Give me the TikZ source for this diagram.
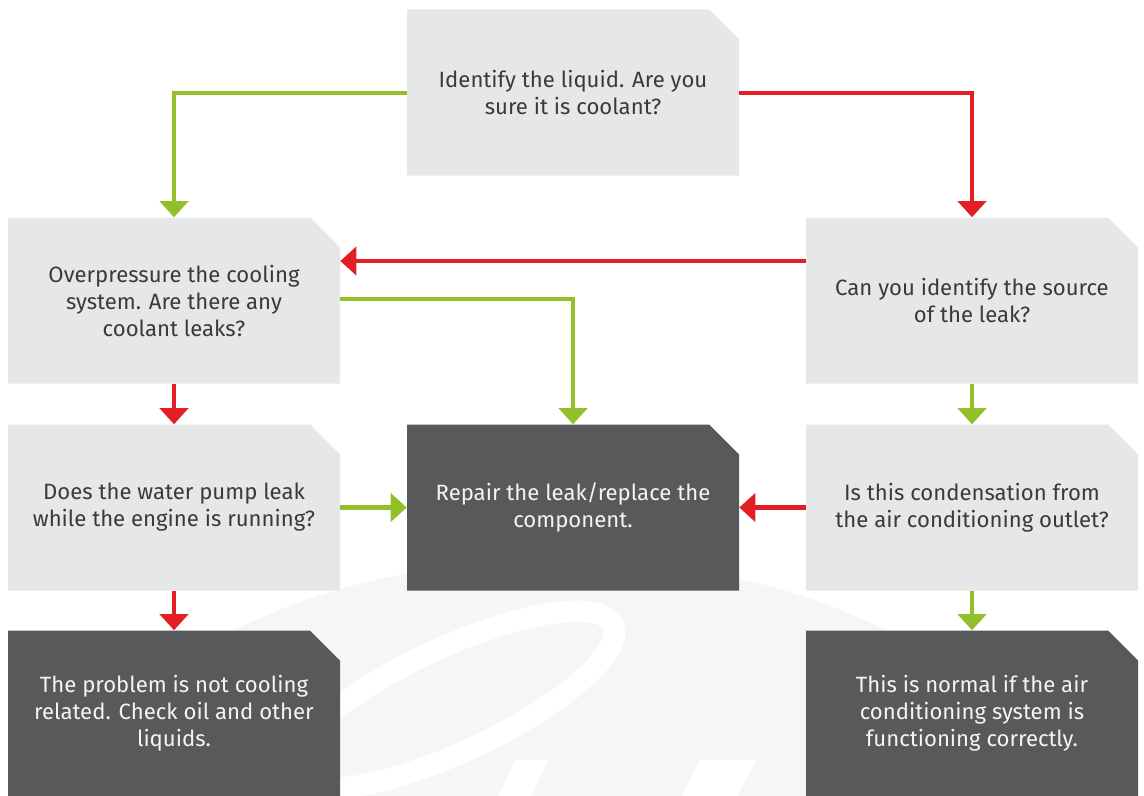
\documentclass[tikz,border=0pt]{standalone}
\usepackage{fontspec}
\setmainfont{Fira Sans}
\usetikzlibrary{arrows.meta,calc}
\definecolor{boxlight}{HTML}{E6E7E8}
\definecolor{boxdark}{HTML}{58595B}
\definecolor{txtdark}{HTML}{3A3A3C}
\definecolor{txtlight}{HTML}{F4F4F4}
\definecolor{arrgreen}{HTML}{92BF2A}
\definecolor{arrred}{HTML}{E31E24}
\definecolor{wmgray}{HTML}{F6F6F6}
\newcommand\flowbox[5]{%
  \fill[#3] ($(#2)+(-166,-83)$) -- ($(#2)+(136,-83)$) -- ($(#2)+(166,-53)$)
    -- ($(#2)+(166,83)$) -- ($(#2)+(-166,83)$) -- cycle;
  \node[boxtext, text=#4] (#1) at (#2) {#5};}
\tikzset{
  boxtext/.style={minimum width=249pt, minimum height=124.5pt, inner sep=0pt,
    align=center, font=\fontsize{16.6}{20.25}\selectfont},
  conn/.style={line width=3.2pt, -{Triangle[width=21pt,length=12pt]}},
  greenarrow/.style={conn, draw=arrgreen},
  redarrow/.style={conn, draw=arrred}
}
\begin{document}
\begin{tikzpicture}[x=0.75pt,y=-0.75pt]
\useasboundingbox (0,0) rectangle (1144,795);
% faint watermark
\begin{scope}
  \clip (0,0) rectangle (1144,795);
  \fill[wmgray] (560,800) ellipse [x radius=460, y radius=240];
  \draw[white, line width=16pt, rotate around={25:(452,700)}] (452,700) ellipse [x radius=178, y radius=52];
  \fill[white] (700,760) -- (756,760) -- (735,800) -- (680,800) -- cycle;
  \fill[white] (515,760) -- (548,760) -- (530,800) -- (497,800) -- cycle;
\end{scope}
% boxes
\flowbox{T}{573,92.5}{boxlight}{txtdark}{Identify the liquid. Are you\\sure it is coolant?}
\flowbox{L1}{174,300.5}{boxlight}{txtdark}{Overpressure the cooling\\system. Are there any\\coolant leaks?}
\flowbox{R1}{972,300.5}{boxlight}{txtdark}{Can you identify the source\\of the leak?}
\flowbox{L2}{174,507.5}{boxlight}{txtdark}{Does the water pump leak\\while the engine is running?}
\flowbox{C}{573,507.5}{boxdark}{txtlight}{Repair the leak/replace the\\component.}
\flowbox{R2}{972,507.5}{boxlight}{txtdark}{Is this condensation from\\the air conditioning outlet?}
\flowbox{L3}{174,713.5}{boxdark}{txtlight}{The problem is not cooling\\related. Check oil and other\\liquids.}
\flowbox{R3}{972,713.5}{boxdark}{txtlight}{This is normal if the air\\conditioning system is\\functioning correctly.}
% connectors
\draw[greenarrow] ($(T.west)+(0,0.5)$) -| (L1.north);
\draw[redarrow] ($(T.east)+(0,0.5)$) -| (R1.north);
\draw[redarrow] ($(R1.west)+(0,-39.5)$) -- ($(L1.east)+(0,-39.5)$);
\draw[greenarrow] ($(L1.east)+(0,-1.5)$) -| (C.north);
\draw[redarrow] (L1.south) -- (L2.north);
\draw[greenarrow] (R1.south) -- (R2.north);
\draw[greenarrow] (L2.east) -- (C.west);
\draw[redarrow] (R2.west) -- (C.east);
\draw[redarrow] (L2.south) -- (L3.north);
\draw[greenarrow] (R2.south) -- (R3.north);
\end{tikzpicture}
\end{document}
